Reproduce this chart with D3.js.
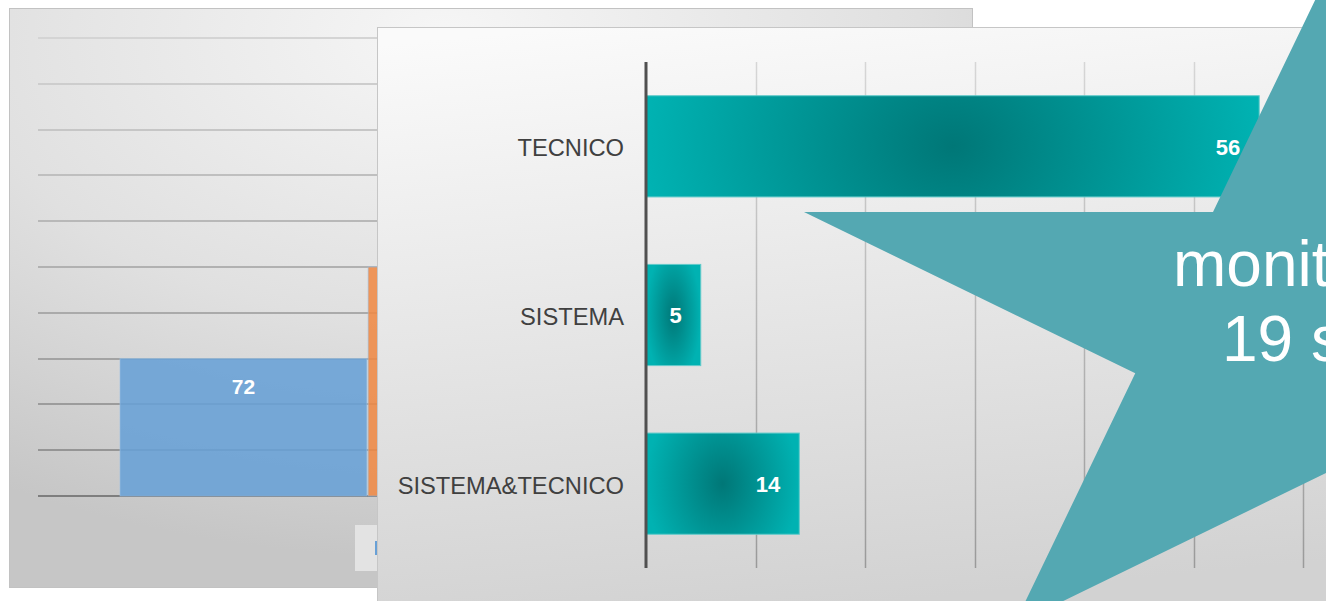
<!DOCTYPE html>
<html>
<head>
<meta charset="utf-8">
<script src="https://cdn.jsdelivr.net/npm/d3@7"></script>
<style>
  html, body { margin: 0; padding: 0; background: #ffffff; overflow: hidden; }
  svg { display: block; font-family: "Liberation Sans", Arial, sans-serif; }
</style>
</head>
<body>
<div id="chart"></div>
<script>
// background chart (mostly hidden behind the front panel)
const bgSeries = ["Serie 1", "Serie 2"];
const bgValues = [72, 120];
const bgColors = ["#68a0d6", "#ef8a45"];
const bgTicks = [0, 24, 48, 72, 96, 120, 144, 168, 192, 216, 240];

// front chart
const categories = ["TECNICO", "SISTEMA", "SISTEMA&TECNICO"];
const values = [56, 5, 14];
const xTicks = [10, 20, 30, 40, 50, 60];

// star text
const starLines = ["monitoraggio", "19 segnalazioni"];

const width = 1326,
      height = 601;

const svg = d3.select("#chart")
  .append("svg")
  .attr("width", width)
  .attr("height", height);

const defs = svg.append("defs");

// panel gradients
const bgGrad = defs.append("radialGradient")
  .attr("id", "bgPanel")
  .attr("cx", "45%").attr("cy", "5%").attr("r", "90%");
bgGrad.append("stop").attr("offset", "0%").attr("stop-color", "#f6f6f6");
bgGrad.append("stop").attr("offset", "55%").attr("stop-color", "#e0e0e0");
bgGrad.append("stop").attr("offset", "100%").attr("stop-color", "#c6c6c6");

const fgGrad = defs.append("linearGradient")
  .attr("id", "fgPanel")
  .attr("x1", "0.2").attr("y1", "0").attr("x2", "0.35").attr("y2", "1");
fgGrad.append("stop").attr("offset", "0%").attr("stop-color", "#fafafa");
fgGrad.append("stop").attr("offset", "100%").attr("stop-color", "#d2d2d2");

const gridGrad = defs.append("linearGradient")
  .attr("id", "vGrid")
  .attr("gradientUnits", "userSpaceOnUse")
  .attr("x1", 0).attr("y1", 62).attr("x2", 0).attr("y2", 568);
gridGrad.append("stop").attr("offset", "0%").attr("stop-color", "#d6d6d6");
gridGrad.append("stop").attr("offset", "100%").attr("stop-color", "#9a9a9a");

// ---------- background panel ----------
svg.append("rect")
  .attr("x", 9.5).attr("y", 8.5)
  .attr("width", 963).attr("height", 579)
  .attr("fill", "url(#bgPanel)")
  .attr("stroke", "#c2c2c2");

const bgY = d3.scaleLinear()
  .domain([0, 240])
  .range([496, 38]);

const bgX = d3.scaleBand()
  .domain(bgSeries)
  .range([120, 615])
  .paddingInner(0.005);

const gridColor = d3.interpolateRgb("#d4d4d4", "#8e8e8e");

svg.append("g")
  .selectAll("line")
  .data(bgTicks)
  .enter()
  .append("line")
  .attr("x1", 38)
  .attr("x2", 400)
  .attr("y1", (d) => Math.round(bgY(d)))
  .attr("y2", (d) => Math.round(bgY(d)))
  .attr("stroke", (d) => d === 0 ? "#7e7e7e" : gridColor(1 - d / 240))
  .attr("stroke-width", 2);

svg.append("g")
  .selectAll("rect")
  .data(bgValues)
  .enter()
  .append("rect")
  .attr("x", (d, i) => bgX(bgSeries[i]))
  .attr("y", (d) => bgY(d))
  .attr("width", bgX.bandwidth())
  .attr("height", (d) => bgY(0) - bgY(d))
  .attr("fill", (d, i) => bgColors[i])
  .attr("fill-opacity", 0.88)
  .attr("stroke", "#9cc3e6")
  .attr("stroke-opacity", 0.6);

svg.append("text")
  .attr("x", bgX(bgSeries[0]) + bgX.bandwidth() / 2)
  .attr("y", bgY(bgValues[0]) + 35)
  .attr("text-anchor", "middle")
  .attr("fill", "#ffffff")
  .attr("font-weight", "bold")
  .attr("font-size", 21)
  .text(bgValues[0]);

// legend box of the background chart
svg.append("rect")
  .attr("x", 355).attr("y", 525)
  .attr("width", 30).attr("height", 46)
  .attr("fill", "#e3e3e3");
svg.append("rect")
  .attr("x", 375).attr("y", 541)
  .attr("width", 4).attr("height", 14)
  .attr("fill", bgColors[0]);

// ---------- front panel ----------
svg.append("rect")
  .attr("x", 377.5).attr("y", 27.5)
  .attr("width", 960).attr("height", 590)
  .attr("fill", "url(#fgPanel)")
  .attr("stroke", "#c6c6c6");

const x = d3.scaleLinear()
  .domain([0, 60])
  .range([646, 1303]);

const y = d3.scaleBand()
  .domain(categories)
  .range([62, 568])
  .paddingInner(0.4)
  .paddingOuter(0.2);

// vertical gridlines
svg.append("g")
  .selectAll("line")
  .data(xTicks)
  .enter()
  .append("line")
  .attr("x1", (d) => Math.round(x(d)) + 0.5)
  .attr("x2", (d) => Math.round(x(d)) + 0.5)
  .attr("y1", 62)
  .attr("y2", 568)
  .attr("stroke", "url(#vGrid)")
  .attr("stroke-width", 1.5);

// one centred gradient per bar, darker in the middle
values.forEach((v, i) => {
  const bx0 = x(0), bx1 = x(v);
  const cx = (bx0 + bx1) / 2;
  const cy = y(categories[i]) + y.bandwidth() / 2;
  const rx = (bx1 - bx0) / 2;
  const ry = y.bandwidth() / 2 + 0.65 * rx;
  const g = defs.append("radialGradient")
    .attr("id", "barFill" + i)
    .attr("gradientUnits", "userSpaceOnUse")
    .attr("cx", cx).attr("cy", cy).attr("r", rx)
    .attr("gradientTransform",
      "translate(" + cx + "," + cy + ") scale(1," + (ry / rx) + ") translate(" + (-cx) + "," + (-cy) + ")");
  g.append("stop").attr("offset", "0%").attr("stop-color", "#007777");
  g.append("stop").attr("offset", "100%").attr("stop-color", "#00b2b2");
});

// bars
svg.append("g")
  .selectAll("rect")
  .data(values)
  .enter()
  .append("rect")
  .attr("x", x(0))
  .attr("y", (d, i) => y(categories[i]))
  .attr("width", (d) => x(d) - x(0))
  .attr("height", y.bandwidth())
  .attr("fill", (d, i) => "url(#barFill" + i + ")")
  .attr("stroke", "#62caca")
  .attr("stroke-width", 1);

// value labels
svg.append("g")
  .selectAll("text")
  .data(values)
  .enter()
  .append("text")
  .attr("x", (d) => x(d) - 19)
  .attr("y", (d, i) => y(categories[i]) + y.bandwidth() / 2)
  .attr("dy", "0.38em")
  .attr("text-anchor", "end")
  .attr("fill", "#ffffff")
  .attr("font-weight", "bold")
  .attr("font-size", 22)
  .text((d) => d);

// y axis: category labels + dark axis line
const yAxis = d3.axisLeft(y).tickSize(0).tickPadding(22);
const yAxisG = svg.append("g")
  .attr("transform", "translate(" + x(0) + ",0)")
  .call(yAxis);
yAxisG.select(".domain")
  .attr("stroke", "#505050")
  .attr("stroke-width", 3)
  .attr("d", "M0,62V568");
yAxisG.selectAll("text")
  .attr("fill", "#404040")
  .attr("font-family", "Liberation Sans, Arial, sans-serif")
  .attr("font-size", 23.7)
  .attr("dy", "0.42em");

// ---------- star ----------
const outer = [
  [1333, -37],   // top
  [1862, 212],   // right
  [1652, 625],   // bottom right
  [1014, 625],   // bottom left
  [804, 212]     // left
];

// intersection of line a1-a2 and b1-b2
function cross(a1, a2, b1, b2) {
  const d = (a1[0] - a2[0]) * (b1[1] - b2[1]) - (a1[1] - a2[1]) * (b1[0] - b2[0]);
  const t = ((a1[0] - b1[0]) * (b1[1] - b2[1]) - (a1[1] - b1[1]) * (b1[0] - b2[0])) / d;
  return [a1[0] + t * (a2[0] - a1[0]), a1[1] + t * (a2[1] - a1[1])];
}

const starPts = [];
for (let i = 0; i < 5; i++) {
  const p = outer[i];
  const q = outer[(i + 1) % 5];
  starPts.push(p);
  // inner vertex between p and q
  starPts.push(cross(p, outer[(i + 2) % 5], q, outer[(i + 4) % 5]));
}

svg.append("path")
  .attr("d", d3.line()(starPts) + "Z")
  .attr("fill", "#54a8b2");

svg.append("g")
  .selectAll("text")
  .data(starLines)
  .enter()
  .append("text")
  .attr("x", (d, i) => i === 0 ? 1173 : 1222)
  .attr("y", (d, i) => 286 + i * 75)
  .attr("fill", "#ffffff")
  .attr("font-size", 64)
  .text((d) => d);
</script>
</body>
</html>
